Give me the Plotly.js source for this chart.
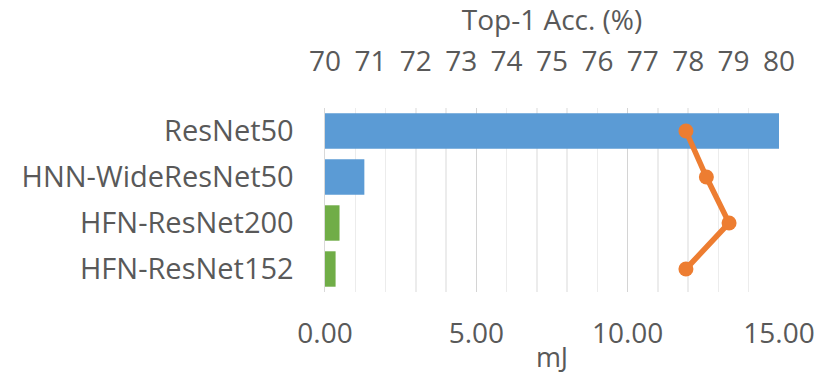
<!DOCTYPE html>
<html>
<head>
<meta charset="utf-8">
<script src="https://cdn.plot.ly/plotly-3.0.1.min.js"></script>
<style>html,body{margin:0;padding:0;background:#fff}#chart{width:830px;height:375px}</style>
</head>
<body>
<div id="chart"></div>
<script>
var models = ["ResNet50", "HNN-WideResNet50", "HFN-ResNet200", "HFN-ResNet152"];
var energyMJ = [15.0, 1.3, 0.48, 0.35];
var barColors = ["#5B9BD5", "#5B9BD5", "#70AD47", "#70AD47"];
var top1Acc = [77.95, 78.4, 78.9, 77.95];
var energyTicks = [0, 5, 10, 15];
var energyTickText = ["0.00", "5.00", "10.00", "15.00"];
var accTicks = [70, 71, 72, 73, 74, 75, 76, 77, 78, 79, 80];

var textColor = "#595959";
var fontFam = "'Open Sans', sans-serif";

var traces = [
  {
    type: "bar",
    orientation: "h",
    y: models,
    x: energyMJ,
    marker: {color: barColors},
    xaxis: "x",
    yaxis: "y",
    hoverinfo: "x+y"
  },
  {
    type: "scatter",
    mode: "lines+markers",
    y: models,
    x: top1Acc,
    xaxis: "x2",
    yaxis: "y",
    line: {color: "#ED7D31", width: 5.5},
    marker: {color: "#ED7D31", size: 15}
  }
];

var layout = {
  width: 830,
  height: 375,
  margin: {l: 325, r: 51, t: 108, b: 83},
  paper_bgcolor: "#ffffff",
  plot_bgcolor: "#ffffff",
  showlegend: false,
  bargap: 0.23,
  font: {family: fontFam, color: textColor, size: 28},
  xaxis: {
    range: [0, 15],
    tickvals: energyTicks,
    ticktext: energyTickText,
    showgrid: true,
    gridcolor: "#d4d4d4",
    gridwidth: 1.5,
    minor: {dtick: 1, showgrid: true, gridcolor: "#ececec", gridwidth: 1.5},
    zeroline: false,
    showline: false,
    ticks: "",
    ticklabelstandoff: 22,
    tickfont: {size: 28, color: textColor},
    title: {text: "mJ", font: {size: 27, color: textColor}, standoff: 0}
  },
  xaxis2: {
    overlaying: "x",
    side: "top",
    range: [70, 80],
    tickvals: accTicks,
    showgrid: false,
    zeroline: false,
    showline: false,
    ticks: "",
    ticklabelstandoff: 30,
    tickfont: {size: 28, color: textColor},
    title: {text: "Top-1 Acc. (%)", font: {size: 28, color: textColor}, standoff: 6}
  },
  yaxis: {
    autorange: "reversed",
    showgrid: false,
    zeroline: false,
    showline: true,
    linecolor: "#d9d9d9",
    linewidth: 1.5,
    ticks: "",
    ticklabelstandoff: 24,
    tickfont: {size: 29, color: textColor}
  }
};

Plotly.newPlot("chart", traces, layout, {displayModeBar: false, staticPlot: true});
</script>
</body>
</html>
